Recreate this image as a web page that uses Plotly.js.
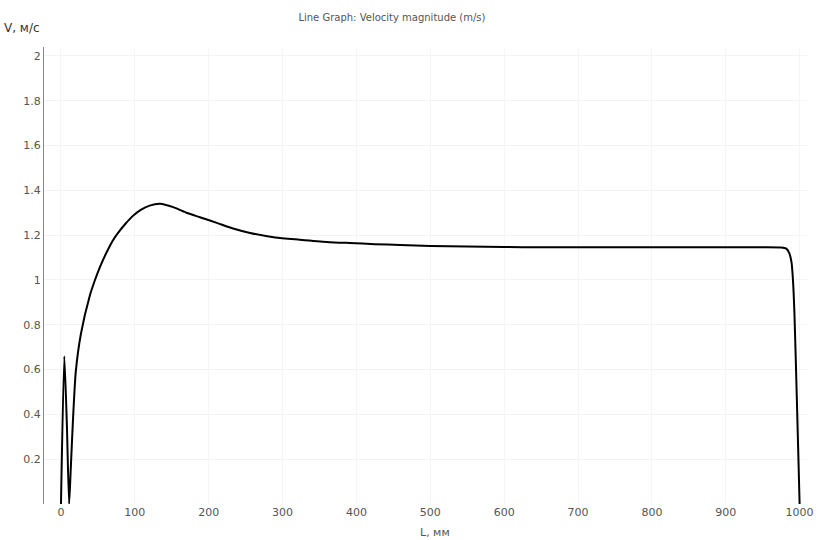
<!DOCTYPE html>
<html>
<head>
<meta charset="utf-8">
<script src="https://cdn.plot.ly/plotly-3.0.1.min.js"></script>
<style>html,body{margin:0;padding:0;background:#fff;}#chart{width:820px;height:540px;}</style>
</head>
<body>
<div id="chart"></div>
<script>
const chartTitle = "Line Graph: Velocity magnitude (m/s)";
const xTitle = "L, мм";
const yTitle = "V, м/с";
const xTicks = [0, 100, 200, 300, 400, 500, 600, 700, 800, 900, 1000];
const yTicks = [0.2, 0.4, 0.6, 0.8, 1, 1.2, 1.4, 1.6, 1.8, 2];
const yTickText = ["0.2", "0.4", "0.6", "0.8", "1", "1.2", "1.4", "1.6", "1.8", "2"];

const L = [0, 4.5, 8, 11, 13, 16, 20, 27, 39, 46, 53, 62, 70, 76, 87, 97, 108, 120, 134, 152, 170, 188, 211, 233, 256, 290, 323, 360, 391, 425, 459, 500, 550, 600, 650, 700, 750, 800, 850, 900, 950, 975, 982, 986, 989, 991, 993, 996, 998, 1000];
const V = [0, 0.66, 0.35, 0.0, 0.14, 0.36, 0.59, 0.76, 0.93, 1.0, 1.06, 1.125, 1.175, 1.205, 1.25, 1.285, 1.313, 1.332, 1.34, 1.325, 1.30, 1.28, 1.255, 1.23, 1.21, 1.19, 1.18, 1.17, 1.165, 1.16, 1.156, 1.152, 1.149, 1.147, 1.146, 1.146, 1.146, 1.146, 1.146, 1.146, 1.146, 1.145, 1.14, 1.12, 1.08, 1.0, 0.85, 0.5, 0.25, 0];

const font = "DejaVu Sans, sans-serif";

Plotly.newPlot("chart", [{
  x: L, y: V, type: "scatter", mode: "lines",
  line: {color: "#000", width: 2, shape: "spline", smoothing: 0.6},
  hoverinfo: "none"
}], {
  width: 820, height: 540,
  margin: {l: 44, r: 13, t: 47, b: 36},
  paper_bgcolor: "#fff", plot_bgcolor: "#fff",
  showlegend: false,
  font: {family: font, size: 11, color: "#555"},
  title: {text: chartTitle, font: {family: font, size: 10, color: "#555"}, x: 0.478, xanchor: "center", y: 0.967, yanchor: "middle"},
  xaxis: {
    range: [-23, 1010], tickvals: xTicks, ticks: "", showline: false, zeroline: false,
    showgrid: true, gridcolor: "#f5f5f5", gridwidth: 1,
    tickfont: {family: font, size: 11, color: "#555"}
  },
  yaxis: {
    range: [0, 2.04], tickvals: yTicks, ticktext: yTickText, ticks: "", showline: true,
    linecolor: "#888", linewidth: 1, zeroline: false,
    showgrid: true, gridcolor: "#f3f3f3", gridwidth: 1,
    tickfont: {family: font, size: 11, color: "#555"}
  },
  annotations: [{
    text: yTitle, xref: "paper", yref: "paper", x: 0, y: 1, xshift: -42, yshift: 19,
    xanchor: "left", yanchor: "middle", showarrow: false,
    font: {family: font, size: 12, color: "#333"}
  }, {
    text: xTitle, xref: "x", yref: "paper", x: 507, y: 0, yshift: -28,
    xanchor: "center", yanchor: "middle", showarrow: false,
    font: {family: font, size: 11, color: "#555"}
  }]
}, {staticPlot: true});
</script>
</body>
</html>
